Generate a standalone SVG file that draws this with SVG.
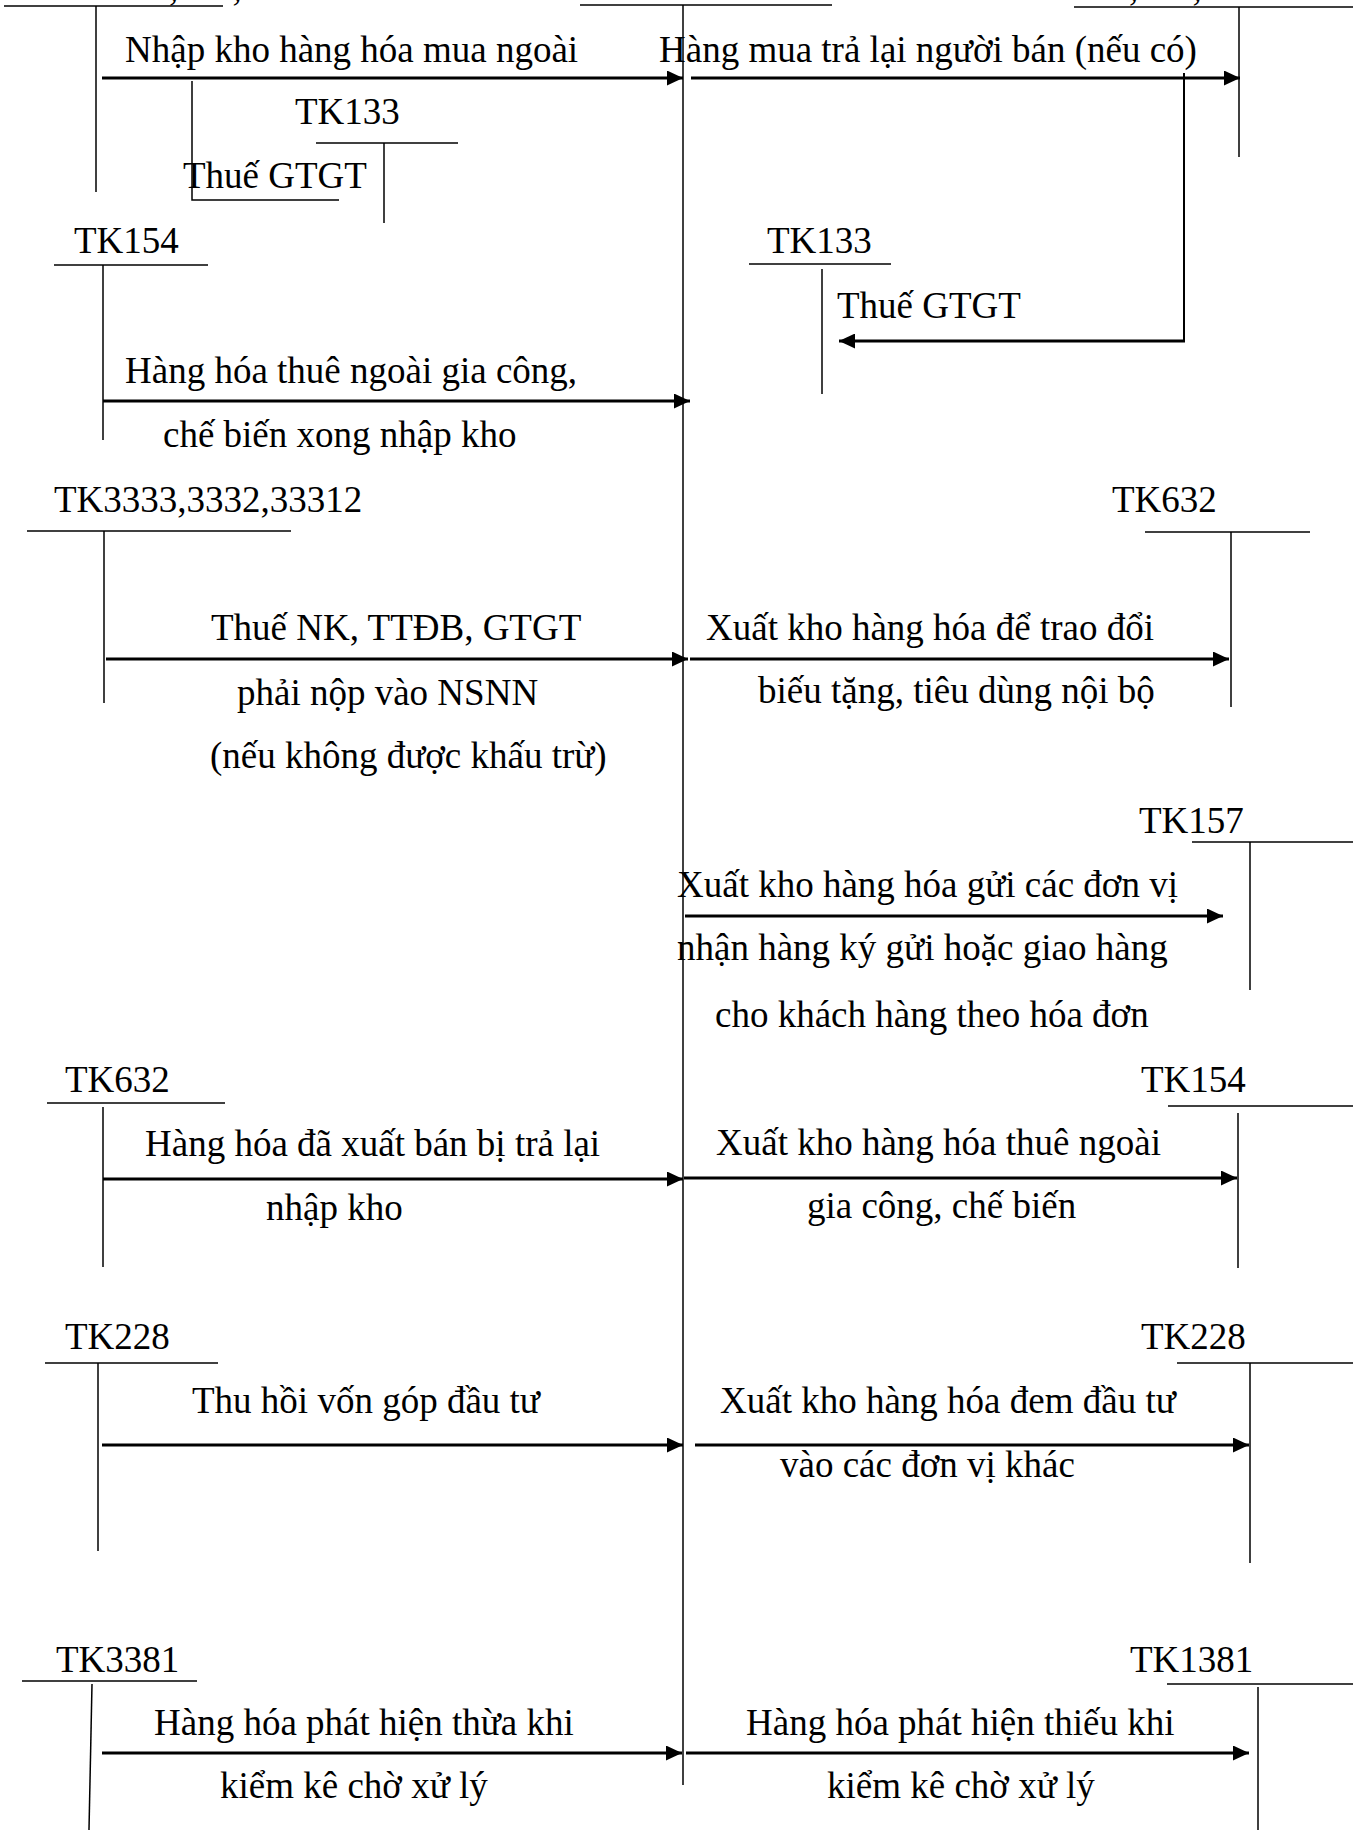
<svg xmlns="http://www.w3.org/2000/svg" width="1353" height="1830" viewBox="0 0 1353 1830">
<style>
text{font-family:"Liberation Serif","Times New Roman",serif;font-size:37px;fill:#000}
.t{stroke:#000;stroke-width:1.5;fill:none}
.a{stroke:#000;stroke-width:3;fill:none;marker-end:url(#ah)}
</style>
<defs>
<marker id="ah" markerUnits="userSpaceOnUse" markerWidth="16" markerHeight="15" refX="16" refY="7.5" orient="auto">
<path d="M0,0 L16,7.5 L0,15 z" fill="#000"/>
</marker>
</defs>
<rect width="1353" height="1830" fill="#fff"/>

<g id="acc-top-left">
<text x="67" y="0">TK111,112,331</text>
<line class="t" x1="4" y1="6" x2="223" y2="6"/>
<line class="t" x1="96" y1="6" x2="96" y2="192"/>
</g>
<g id="acc-center">
<line class="t" x1="580" y1="5" x2="832" y2="5"/>
<line class="t" x1="683" y1="5" x2="683" y2="1785"/>
</g>
<g id="acc-top-right">
<text x="1027" y="0">TK111,112,331</text>
<line class="t" x1="1074" y1="7" x2="1353" y2="7"/>
<line class="t" x1="1239" y1="7" x2="1239" y2="157"/>
</g>
<g id="acc-tk133-left">
<text x="295" y="124">TK133</text>
<line class="t" x1="316" y1="143" x2="458" y2="143"/>
<line class="t" x1="384" y1="143" x2="384" y2="223"/>
</g>
<g id="acc-tk154-left">
<text x="74" y="253">TK154</text>
<line class="t" x1="54" y1="265" x2="208" y2="265"/>
<line class="t" x1="103" y1="265" x2="103" y2="440"/>
</g>
<g id="acc-tk133-right">
<text x="767" y="253">TK133</text>
<line class="t" x1="749" y1="264" x2="891" y2="264"/>
<line class="t" x1="822" y1="269" x2="822" y2="394"/>
</g>
<g id="acc-tk3333">
<text x="54" y="512">TK3333,3332,33312</text>
<line class="t" x1="27" y1="531" x2="291" y2="531"/>
<line class="t" x1="104" y1="531" x2="104" y2="703"/>
</g>
<g id="acc-tk632-right">
<text x="1112" y="512">TK632</text>
<line class="t" x1="1145" y1="532" x2="1310" y2="532"/>
<line class="t" x1="1231" y1="532" x2="1231" y2="707"/>
</g>
<g id="acc-tk157">
<text x="1139" y="833">TK157</text>
<line class="t" x1="1192" y1="842" x2="1353" y2="842"/>
<line class="t" x1="1250" y1="842" x2="1250" y2="990"/>
</g>
<g id="acc-tk632-left">
<text x="65" y="1092">TK632</text>
<line class="t" x1="47" y1="1103" x2="225" y2="1103"/>
<line class="t" x1="103" y1="1107" x2="103" y2="1267"/>
</g>
<g id="acc-tk154-right">
<text x="1141" y="1092">TK154</text>
<line class="t" x1="1168" y1="1106" x2="1353" y2="1106"/>
<line class="t" x1="1238" y1="1113" x2="1238" y2="1268"/>
</g>
<g id="acc-tk228-left">
<text x="65" y="1349">TK228</text>
<line class="t" x1="45" y1="1363" x2="218" y2="1363"/>
<line class="t" x1="98" y1="1363" x2="98" y2="1551"/>
</g>
<g id="acc-tk228-right">
<text x="1141" y="1349">TK228</text>
<line class="t" x1="1177" y1="1363" x2="1353" y2="1363"/>
<line class="t" x1="1250" y1="1363" x2="1250" y2="1563"/>
</g>
<g id="acc-tk3381">
<text x="56" y="1672">TK3381</text>
<line class="t" x1="22" y1="1681" x2="197" y2="1681"/>
<line class="t" x1="92" y1="1684" x2="89" y2="1830"/>
</g>
<g id="acc-tk1381">
<text x="1130" y="1672">TK1381</text>
<line class="t" x1="1167" y1="1684" x2="1353" y2="1684"/>
<line class="t" x1="1258" y1="1687" x2="1258" y2="1830"/>
</g>

<g id="connectors">
<line class="a" x1="102" y1="78" x2="683" y2="78"/>
<line class="a" x1="691" y1="78" x2="1240" y2="78"/>
<polyline class="t" points="192,81 192,200 339,200"/>
<line class="t" x1="1184" y1="73" x2="1184" y2="341" style="stroke-width:2"/>
<line class="a" x1="1185" y1="341" x2="839" y2="341"/>
<line class="a" x1="103" y1="401" x2="690" y2="401"/>
<line class="a" x1="106" y1="659" x2="688" y2="659"/>
<line class="a" x1="690" y1="659" x2="1229" y2="659"/>
<line class="a" x1="685" y1="916" x2="1223" y2="916"/>
<line class="a" x1="103" y1="1179" x2="683" y2="1179"/>
<line class="a" x1="684" y1="1178" x2="1237" y2="1178"/>
<line class="a" x1="102" y1="1445" x2="683" y2="1445"/>
<line class="a" x1="695" y1="1445" x2="1249" y2="1445"/>
<line class="a" x1="102" y1="1753" x2="682" y2="1753"/>
<line class="a" x1="686" y1="1753" x2="1249" y2="1753"/>
</g>

<g id="labels">
<text x="125" y="62">Nhập kho hàng hóa mua ngoài</text>
<text x="659" y="62">Hàng mua trả lại người bán (nếu có)</text>
<text x="183" y="188">Thuế GTGT</text>
<text x="837" y="318">Thuế GTGT</text>
<text x="125" y="383">Hàng hóa thuê ngoài gia công,</text>
<text x="163" y="447">chế biến xong nhập kho</text>
<text x="211" y="640">Thuế NK, TTĐB, GTGT</text>
<text x="237" y="705">phải nộp vào NSNN</text>
<text x="210" y="768">(nếu không được khấu trừ)</text>
<text x="706" y="640">Xuất kho hàng hóa để trao đổi</text>
<text x="758" y="703">biếu tặng, tiêu dùng nội bộ</text>
<text x="677" y="897">Xuất kho hàng hóa gửi các đơn vị</text>
<text x="677" y="960">nhận hàng ký gửi hoặc giao hàng</text>
<text x="715" y="1027">cho khách hàng theo hóa đơn</text>
<text x="145" y="1156">Hàng hóa đã xuất bán bị trả lại</text>
<text x="266" y="1220">nhập kho</text>
<text x="716" y="1155">Xuất kho hàng hóa thuê ngoài</text>
<text x="807" y="1218">gia công, chế biến</text>
<text x="192" y="1413">Thu hồi vốn góp đầu tư</text>
<text x="720" y="1413">Xuất kho hàng hóa đem đầu tư</text>
<text x="780" y="1477">vào các đơn vị khác</text>
<text x="154" y="1735">Hàng hóa phát hiện thừa khi</text>
<text x="220" y="1798">kiểm kê chờ xử lý</text>
<text x="746" y="1735">Hàng hóa phát hiện thiếu khi</text>
<text x="827" y="1798">kiểm kê chờ xử lý</text>
</g>
</svg>
